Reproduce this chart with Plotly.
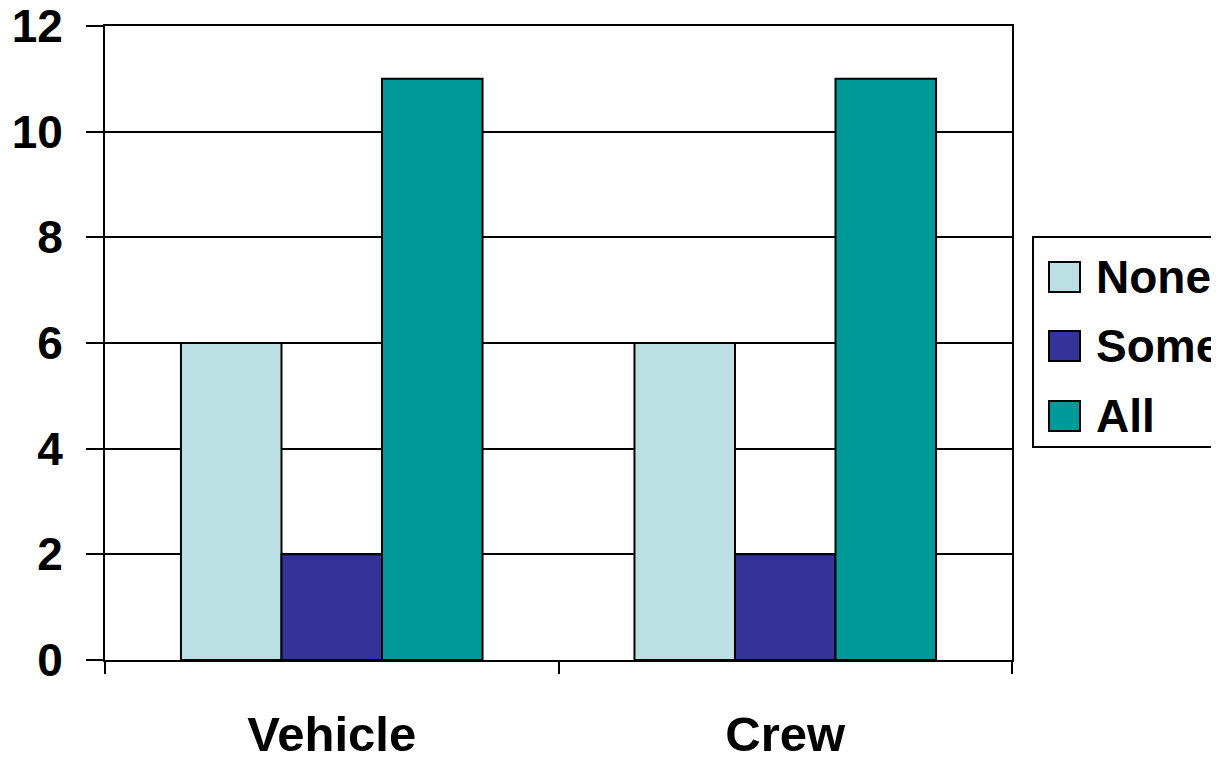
import plotly.graph_objects as go

# data
categories = ["Vehicle", "Crew"]
series_names = ["None", "Some", "All"]
none_vals = [6, 6]
some_vals = [2, 2]
all_vals = [11, 11]
series_values = [none_vals, some_vals, all_vals]
colors = ["#BBE0E3", "#333399", "#009999"]
y_ticks = [0, 2, 4, 6, 8, 10, 12]

# page has an 8px body margin, so the figure is drawn 8px smaller
OFF = 8
W, H = 1219 - OFF, 757 - OFF
L, R, T, B = 105 - OFF, 1012 - OFF, 26 - OFF, 660 - OFF
FONT = "Arial, Liberation Sans, sans-serif"


def px_x(p):
    # page pixel -> paper fraction
    return (p - OFF - L) / (R - L)


def px_y(p):
    return (B - (p - OFF)) / (B - T)


fig = go.Figure()
for name, vals, col in zip(series_names, series_values, colors):
    fig.add_trace(go.Bar(
        x=categories, y=vals, name=name, showlegend=False,
        marker=dict(color=col, line=dict(color="black", width=2)),
    ))

# hand-drawn legend (large square keys like the original)
shapes = [dict(type="rect", xref="paper", yref="paper",
               x0=px_x(1033), x1=px_x(1240), y0=px_y(447), y1=px_y(237),
               line=dict(color="black", width=2), fillcolor="white")]
annotations = []
row_y = [277, 346, 416]
for name, col, cy in zip(series_names, colors, row_y):
    shapes.append(dict(type="rect", xref="paper", yref="paper",
                       x0=px_x(1049), x1=px_x(1080), y0=px_y(cy + 15), y1=px_y(cy - 15),
                       line=dict(color="black", width=2), fillcolor=col))
    annotations.append(dict(text=name, xref="paper", yref="paper",
                            x=px_x(1094), y=px_y(cy), xanchor="left", yanchor="middle",
                            showarrow=False, font=dict(size=46, color="black", family=FONT)))

fig.update_layout(
    width=W, height=H,
    margin=dict(l=L, r=W - R, t=T, b=H - B, pad=0, autoexpand=False),
    paper_bgcolor="white", plot_bgcolor="white",
    barmode="group", bargap=0.335, bargroupgap=0,
    font=dict(family=FONT, size=46, color="black"),
    shapes=shapes, annotations=annotations,
    showlegend=False,
)
fig.update_xaxes(
    automargin=False,
    showline=True, linecolor="black", linewidth=2, mirror=True,
    ticks="outside", ticklen=12, tickwidth=2, tickcolor="black",
    tickson="boundaries", showgrid=False,
    tickfont=dict(size=49, family=FONT, weight="bold"),
    ticklabelstandoff=30,
)
fig.update_yaxes(
    automargin=False, ticklabeloverflow="allow",
    range=[0, 12], tickvals=y_ticks,
    showline=True, linecolor="black", linewidth=2, mirror=True,
    showgrid=True, gridcolor="black", gridwidth=2,
    zeroline=False,
    ticks="outside", ticklen=17, tickwidth=2, tickcolor="black",
    tickfont=dict(size=46, family=FONT, weight="bold"),
    ticklabelstandoff=14,
)
fig.update_annotations(font_weight="bold")

fig.write_html("out.html")
